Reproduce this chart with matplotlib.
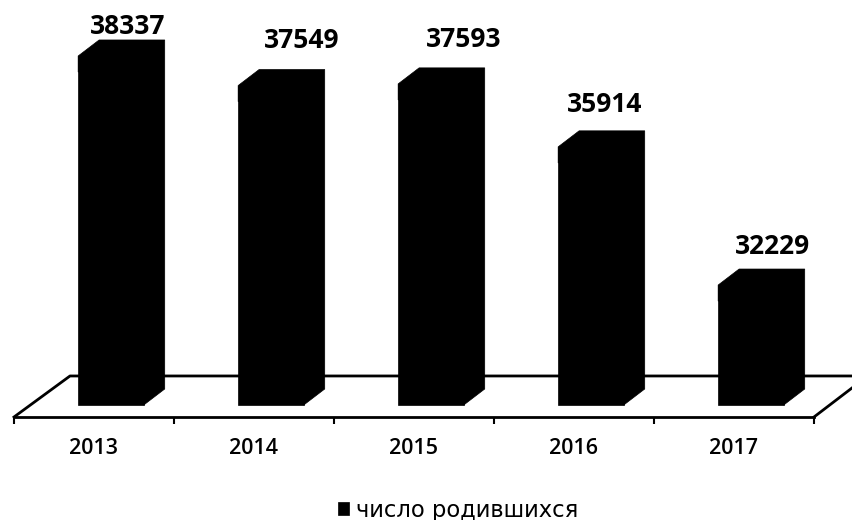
import numpy as np
from matplotlib import pyplot as plt
from matplotlib.patches import Polygon

plt.rcParams['font.family'] = ['Open Sans', 'DejaVu Sans']

years = ['2013', '2014', '2015', '2016', '2017']
births = [38337, 37549, 37593, 35914, 32229]
series_name = 'число родившихся'

# how far each value label sits from its category / bar top, in pixels
label_dx = [34, 48, 50, 31, 39]
label_dy = [29, 45, 44, 42, 39]

base = 29030
bar_w = 0.41
bar_off = 0.106
depth_x = 0.131
depth_y = 427
floor_back = 29804
floor_left = -0.15

fig = plt.figure(figsize=(8.53, 5.2), dpi=100)
ax = fig.add_axes([14 / 853, 103 / 520, 800 / 853, 417 / 520])
ax.set_xlim(-0.5, 4.5)
ax.set_ylim(28710, 39830)
ax.patch.set_alpha(0)

x = np.arange(len(years))
vals = np.array(births)

# floor of the 3d plot
y0 = ax.get_ylim()[0]
ax.plot([-0.5, floor_left, 5.0], [y0, floor_back, floor_back], color='k', lw=2, zorder=1, clip_on=False)
ax.plot([4.5, 4.5 + depth_x * 1.9], [y0, y0 + depth_y * 1.9], color='k', lw=2, zorder=1, clip_on=False)

bars = ax.bar(x + bar_off, vals - base, bar_w, bottom=base, color='k', edgecolor='k', lw=0.5,
              label=series_name, zorder=2)

for i in range(len(years)):
    left = x[i] + bar_off - bar_w / 2
    right = left + bar_w
    # top and side of the bar, overlapping the front so no seam shows
    pts = [(left, vals[i]), (left + depth_x, vals[i] + depth_y), (right + depth_x, vals[i] + depth_y),
           (right + depth_x, base + depth_y), (right, base), (right, vals[i] - depth_y), (left, vals[i] - depth_y)]
    ax.add_patch(Polygon(pts, closed=True, facecolor='k', edgecolor='k', lw=0.5, zorder=2))
    ax.annotate(str(births[i]), (x[i], vals[i]), xytext=(label_dx[i] * 0.72, label_dy[i] * 0.72),
                textcoords='offset points', ha='center', va='center',
                fontsize=19, fontweight='bold', zorder=3)

for s in ['top', 'left', 'right']:
    ax.spines[s].set_visible(False)
ax.spines['bottom'].set_linewidth(2)
ax.set_yticks([])
ax.set_xticks(np.arange(-0.5, 5, 1))
ax.set_xticklabels([])
ax.set_xticks(x, years, minor=True)
ax.tick_params(axis='x', which='major', length=5, width=1.5)
ax.tick_params(axis='x', which='minor', length=0, pad=15, labelsize=15.5)
for t in ax.get_xticklabels(minor=True):
    t.set_fontweight('semibold')

ax.legend(handlelength=0.49, handleheight=0.5, handletextpad=0.33, frameon=False,
          prop={'family': 'DejaVu Sans', 'size': 16.3},
          loc='center', bbox_to_anchor=(458 / 853, 1 - 510 / 520), bbox_transform=fig.transFigure)

fig.savefig('out.png', dpi=100)
